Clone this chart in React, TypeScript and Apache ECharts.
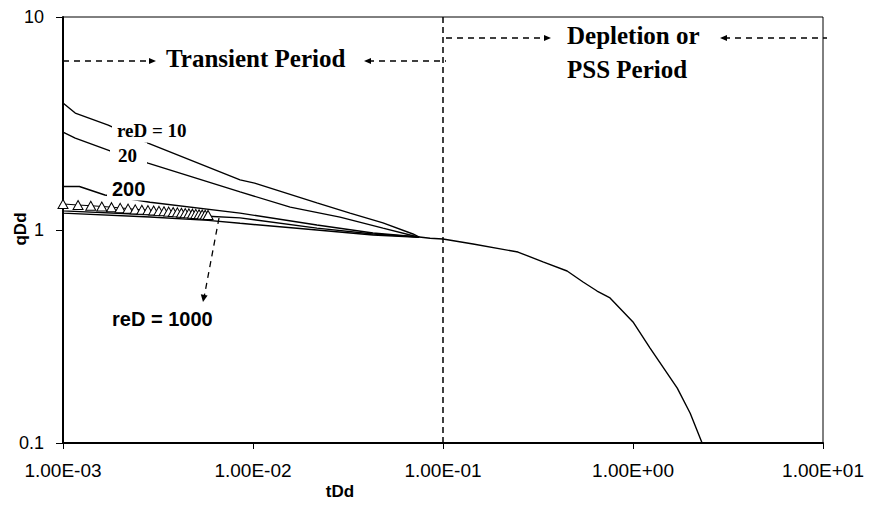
import React, { useEffect, useRef } from "react";
import * as echarts from "echarts";

// ---- tick labels ----
const xTickLabels = ["1.00E-03", "1.00E-02", "1.00E-01", "1.00E+00", "1.00E+01"];
const yTickLabels = ["0.1", "1", "10"];

// ---- transient curves [tDd, qDd] ----
const reD10: number[][] = [
  [0.00094, 4.02], [0.001, 3.95], [0.00116, 3.54], [0.00173, 3.11], [0.0028, 2.56],
  [0.00855, 1.72], [0.0102, 1.66], [0.0217, 1.34], [0.0324, 1.2], [0.0483, 1.08],
  [0.0695, 0.958], [0.075, 0.927],
];
const reD20: number[][] = [
  [0.00094, 2.93], [0.001, 2.88], [0.00116, 2.7], [0.00177, 2.35], [0.0028, 2.06],
  [0.00855, 1.51], [0.0157, 1.28], [0.0287, 1.15], [0.0483, 1.02], [0.073, 0.93],
  [0.075, 0.927],
];
const reD200: number[][] = [
  [0.00094, 1.6], [0.00122, 1.6], [0.00166, 1.46], [0.00287, 1.35], [0.00855, 1.2],
  [0.0217, 1.055], [0.0428, 0.968], [0.075, 0.927],
];
const reD1000Line1: number[][] = [
  [0.00094, 1.235], [0.001, 1.23], [0.00287, 1.18], [0.0058, 1.16], [0.00855, 1.14],
  [0.0217, 1.02], [0.0428, 0.958], [0.075, 0.927],
];
const reD1000Line2: number[][] = [
  [0.00094, 1.205], [0.001, 1.2], [0.00287, 1.15], [0.0058, 1.11], [0.00855, 1.075],
  [0.0217, 1.0], [0.0428, 0.947], [0.075, 0.925],
];

// ---- reD = 1000 triangle points ----
const triTime = [
  0.001, 0.0012, 0.0014, 0.0016, 0.0018, 0.002, 0.0022, 0.0024, 0.0026, 0.0028,
  0.003, 0.0032, 0.0034, 0.0036, 0.0038, 0.004, 0.0042, 0.0044, 0.0046, 0.0048,
  0.005, 0.0052, 0.0054, 0.0056, 0.0058,
];
const triRate = [
  1.325, 1.31, 1.3, 1.29, 1.28, 1.27, 1.26, 1.25, 1.245, 1.24,
  1.235, 1.23, 1.225, 1.22, 1.215, 1.21, 1.205, 1.2, 1.197, 1.193,
  1.19, 1.186, 1.183, 1.18, 1.177,
];

// ---- depletion (PSS) stem ----
const depletion: number[][] = [
  [0.075, 0.927], [0.0855, 0.914], [0.1, 0.907], [0.144, 0.86], [0.248, 0.788],
  [0.336, 0.708], [0.45, 0.642], [0.546, 0.57], [0.647, 0.517], [0.757, 0.48],
  [1.0, 0.37], [1.23, 0.279], [1.71, 0.181], [2.0, 0.138], [2.31, 0.1],
];

// boundary between transient and depletion periods
const boundaryTime = 0.104;

const SERIF = "'Liberation Serif', 'Times New Roman', serif";
const SANS = "'Liberation Sans', Arial, sans-serif";

const lineSeries = (name: string, data: number[][]) => ({
  name,
  type: "line",
  data,
  symbol: "none",
  clip: false,
  lineStyle: { color: "#000", width: 1.4 },
  z: 3,
});

const dashed = (x1: number, y1: number, x2: number, y2: number) => ({
  type: "line",
  shape: { x1, y1, x2, y2 },
  style: { stroke: "#000", lineWidth: 1.3, lineDash: [6, 5] },
  z: 50,
});

const arrowHead = (pts: number[][]) => ({
  type: "polygon",
  shape: { points: pts },
  style: { fill: "#000" },
  z: 50,
});

const label = (
  text: string, x: number, y: number, font: string, size: number, bg = false,
  padding: number[] = [0, 0, 0, 0]
) => ({
  type: "text",
  x,
  y,
  z: 60,
  style: {
    text,
    fill: "#000",
    font: `bold ${size}px ${font}`,
    align: "left",
    verticalAlign: "middle",
    backgroundColor: bg ? "#fff" : undefined,
    padding,
  },
});

export default function App() {
  const ref = useRef<HTMLDivElement>(null);

  useEffect(() => {
    if (!ref.current) return;
    const chart = echarts.init(ref.current, undefined, { renderer: "svg" });

    const option = {
      animation: false,
      backgroundColor: "#fff",
      grid: {
        left: 63,
        right: 51,
        top: 17,
        bottom: 63,
        containLabel: false,
        outerBoundsMode: "none",
        show: true,
        borderColor: "#000",
        borderWidth: 1,
        backgroundColor: "transparent",
      },
      xAxis: {
        type: "log",
        logBase: 10,
        min: 0.001,
        max: 10,
        axisLine: { show: true, lineStyle: { color: "#000", width: 2 } },
        axisTick: { show: true, length: 6, lineStyle: { color: "#000", width: 1 } },
        axisLabel: {
          color: "#000",
          fontFamily: SANS,
          fontSize: 19,
          margin: 18,
          showMinLabel: true,
          showMaxLabel: true,
          formatter: (v: number) => xTickLabels[Math.round(Math.log10(v)) + 3],
        },
        splitLine: { show: false },
        minorTick: { show: false },
      },
      yAxis: {
        type: "log",
        logBase: 10,
        min: 0.1,
        max: 10,
        axisLine: { show: true, lineStyle: { color: "#000", width: 2 } },
        axisTick: { show: true, length: 7, lineStyle: { color: "#000", width: 1 } },
        axisLabel: {
          color: "#000",
          fontFamily: SANS,
          fontSize: 18,
          margin: 19,
          showMinLabel: true,
          showMaxLabel: true,
          formatter: (v: number) => yTickLabels[Math.round(Math.log10(v)) + 1],
        },
        splitLine: { show: false },
        minorTick: { show: false },
      },
      series: [
        lineSeries("reD = 10", reD10),
        lineSeries("reD = 20", reD20),
        lineSeries("reD = 200", reD200),
        lineSeries("reD = 1000 (a)", reD1000Line1),
        lineSeries("reD = 1000 (b)", reD1000Line2),
        {
          name: "reD = 1000",
          type: "line",
          data: triTime.map((t, i) => [t, triRate[i]]),
          symbol: "triangle",
          symbolSize: [10, 9],
          showAllSymbol: true,
          clip: false,
          itemStyle: { color: "#fff", borderColor: "#000", borderWidth: 1 },
          lineStyle: { color: "#000", width: 1 },
          z: 4,
        },
        {
          name: "Depletion",
          type: "line",
          data: depletion,
          symbol: "none",
          lineStyle: { color: "#000", width: 1.4 },
          z: 3,
          markLine: {
            silent: true,
            symbol: ["none", "none"],
            label: { show: false },
            lineStyle: { color: "#000", width: 1.5, type: [6, 4] },
            data: [{ xAxis: boundaryTime }],
          },
        },
      ],
      graphic: [
        // Transient period arrows
        dashed(63, 61, 152, 61),
        arrowHead([[149, 58], [156, 61], [149, 64]]),
        dashed(368, 61, 446, 61),
        arrowHead([[371, 58], [364, 61], [371, 64]]),
        // Depletion arrows
        dashed(446, 38, 547, 38),
        arrowHead([[544, 35], [551, 38], [544, 41]]),
        dashed(724, 38, 827, 38),
        arrowHead([[727, 35], [720, 38], [727, 41]]),
        // reD = 1000 pointer
        dashed(219, 218, 204.5, 295),
        arrowHead([[207.6, 295.5], [203, 302], [200.8, 294.3]]),
        // texts
        label("Transient Period", 166, 58, SERIF, 25),
        label("Depletion or", 567, 35, SERIF, 25),
        label("PSS Period", 567, 69, SERIF, 25),
        label("reD = 10", 112, 130, SERIF, 19, true, [3, 6, 3, 5]),
        label("20", 110, 155, SERIF, 19, true, [3, 10, 3, 8]),
        label("200", 107, 189, SANS, 20, true, [2, 4, 1, 5]),
        label("reD = 1000", 112, 319, SANS, 20),
        // axis titles
        {
          type: "text",
          x: 340,
          y: 491,
          z: 60,
          style: {
            text: "tDd",
            fill: "#000",
            font: `bold 17px ${SANS}`,
            align: "center",
            verticalAlign: "middle",
          },
        },
        {
          type: "text",
          x: 20,
          y: 229,
          rotation: Math.PI / 2,
          z: 60,
          style: {
            text: "qDd",
            fill: "#000",
            font: `bold 17px ${SANS}`,
            align: "center",
            verticalAlign: "middle",
          },
        },
      ],
    };

    chart.setOption(option as any);
    return () => chart.dispose();
  }, []);

  return (
    <div
      ref={ref}
      style={{ position: "absolute", left: 0, top: 0, width: 874, height: 506, background: "#fff" }}
    />
  );
}
